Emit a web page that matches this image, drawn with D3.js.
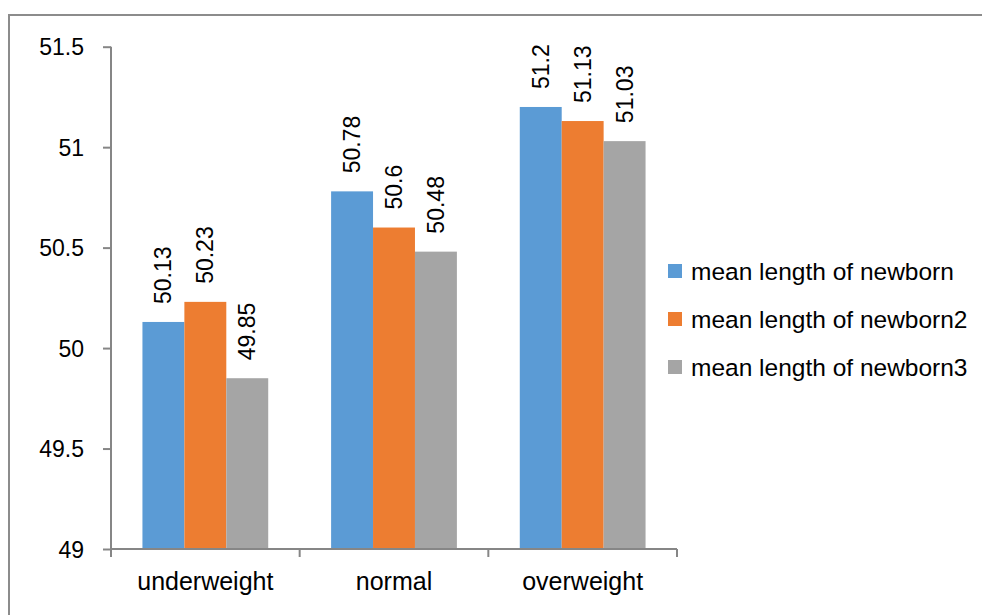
<!doctype html>
<html lang="en">
<head>
<meta charset="utf-8">
<title>Mean length of newborn</title>
<style>
  body { margin: 0; background: #fff; }
  svg text { font-family: "Liberation Sans", Arial, sans-serif; fill: #000; }
</style>
</head>
<body>
<svg></svg>
<script src="https://d3js.org/d3.v7.min.js"></script>
<script>
let width = 982,
    height = 615;

// data
let categories = ["underweight", "normal", "overweight"];
let seriesNames = ["mean length of newborn", "mean length of newborn2", "mean length of newborn3"];
let series1 = [50.13, 50.78, 51.2];
let series2 = [50.23, 50.6, 51.13];
let series3 = [49.85, 50.48, 51.03];
let yTicks = [49, 49.5, 50, 50.5, 51, 51.5];
let colors = ["#5b9bd5", "#ed7d31", "#a5a5a5"];

let allSeries = [series1, series2, series3];

let svg = d3.select("svg")
    .attr("width", width)
    .attr("height", height);

// outer chart frame (runs off right/bottom edge)
svg.append("rect")
    .attr("x", 9)
    .attr("y", 15)
    .attr("width", 1000)
    .attr("height", 640)
    .attr("fill", "none")
    .attr("stroke", "#8c8c8c")
    .attr("stroke-width", 2);

let plot = { left: 111, right: 677, top: 46.7, bottom: 549 };

let x0 = d3.scaleBand()
    .domain(categories)
    .range([plot.left, plot.right])
    .paddingInner(0)
    .paddingOuter(0);

// gap width 150% -> 0.75 bar width on each side
let x1 = d3.scaleBand()
    .domain(d3.range(seriesNames.length))
    .range([0, x0.bandwidth()])
    .paddingInner(0)
    .paddingOuter(0.75);

let y = d3.scaleLinear()
    .domain([49, 51.5])
    .range([plot.bottom, plot.top]);

// bars
let groups = svg.append("g")
    .selectAll("g")
    .data(categories)
    .enter()
    .append("g")
    .attr("transform", d => "translate(" + x0(d) + ",0)");

groups.selectAll("rect")
    .data((c, i) => allSeries.map((s, k) => ({ k: k, v: s[i] })))
    .enter()
    .append("rect")
    .attr("x", d => x1(d.k))
    .attr("width", x1.bandwidth())
    .attr("y", d => y(d.v))
    .attr("height", d => y(49) - y(d.v))
    .attr("fill", d => colors[d.k]);

// data labels, rotated
groups.selectAll("text")
    .data((c, i) => allSeries.map((s, k) => ({ k: k, v: s[i] })))
    .enter()
    .append("text")
    .attr("transform", d => "translate(" + (x1(d.k) + x1.bandwidth() / 2 + 8) + "," + (y(d.v) - 18) + ") rotate(-90)")
    .attr("font-size", 23)
    .text(d => d.v);

// y axis
let yAxis = d3.axisLeft(y)
    .tickValues(yTicks)
    .tickSize(8)
    .tickPadding(19)
    .tickFormat(d => d);

let gy = svg.append("g")
    .attr("transform", "translate(" + plot.left + ",0)")
    .call(yAxis);
gy.select(".domain").attr("stroke", "#868686").attr("stroke-width", 2)
    .attr("d", "M0," + plot.top + "V" + plot.bottom);
gy.selectAll(".tick line").attr("stroke", "#868686").attr("stroke-width", 2);
gy.selectAll(".tick text").attr("font-size", 23).attr("dy", "0.36em");

// x axis
let xAxis = d3.axisBottom(x0)
    .tickSize(0)
    .tickPadding(23);

let gx = svg.append("g")
    .attr("transform", "translate(0," + plot.bottom + ")")
    .call(xAxis);
gx.select(".domain").attr("stroke", "#868686").attr("stroke-width", 2)
    .attr("d", "M" + plot.left + ",0H" + plot.right);
gx.selectAll(".tick text").attr("font-size", 25);

// category separators on x axis
svg.append("g")
    .selectAll("line")
    .data(categories.map(c => x0(c)).concat([plot.right]))
    .enter()
    .append("line")
    .attr("x1", d => d)
    .attr("x2", d => d)
    .attr("y1", plot.bottom)
    .attr("y2", plot.bottom + 8)
    .attr("stroke", "#868686")
    .attr("stroke-width", 2);

// legend
let legend = svg.append("g")
    .selectAll("g")
    .data(seriesNames)
    .enter()
    .append("g")
    .attr("transform", (d, i) => "translate(668," + (271 + i * 48) + ")");

legend.append("rect")
    .attr("x", 0)
    .attr("y", -7)
    .attr("width", 14)
    .attr("height", 14)
    .attr("fill", (d, i) => colors[i]);

legend.append("text")
    .attr("x", 23)
    .attr("dy", "0.36em")
    .attr("font-size", 24.5)
    .text(d => d);
</script>
</body>
</html>
